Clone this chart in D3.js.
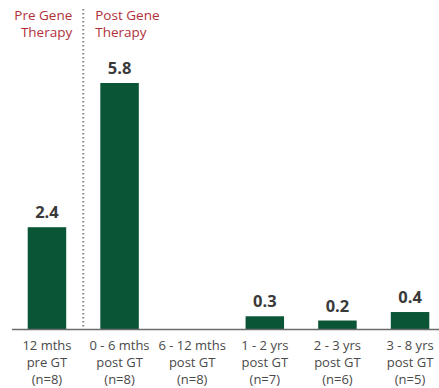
<!DOCTYPE html>
<html>
<head>
<meta charset="utf-8">
<script src="https://cdn.jsdelivr.net/npm/d3@7"></script>
<style>
  body { margin: 0; background: #fff; }
  svg { display: block; font-family: "Open Sans", sans-serif; }
</style>
</head>
<body>
<div id="vis"></div>
<script>
// ----- DATA ----- //
const periods = ["12m pre", "0-6m", "6-12m", "1-2y", "2-3y", "3-8y"];
const values = [2.4, 5.8, null, 0.3, 0.2, 0.4];
const labelLines = [
  ["12 mths", "pre GT", "(n=8)"],
  ["0 - 6 mths", "post GT", "(n=8)"],
  ["6 - 12 mths", "post GT", "(n=8)"],
  ["1 - 2 yrs", "post GT", "(n=7)"],
  ["2 - 3 yrs", "post GT", "(n=6)"],
  ["3 - 8 yrs", "post GT", "(n=5)"]
];
const phaseLeft = ["Pre Gene", "Therapy"];
const phaseRight = ["Post Gene", "Therapy"];

const width = 439, height = 388;
const baseY = 329;

const svg = d3.select("#vis")
  .append("svg")
  .attr("width", width)
  .attr("height", height);

// ----- SCALES ----- //
let x = d3.scaleBand()
  .domain(periods)
  .range([11, 446])
  .paddingInner(0.47)
  .paddingOuter(0.23);

let y = d3.scaleLinear()
  .domain([0, 5.8])
  .range([baseY, 83]);

const barColor = "#0a5535";

// ----- BARS ----- //
let data = periods.map((p, i) => ({ key: p, value: values[i], lines: labelLines[i] }));

svg.selectAll(".bar")
  .data(data.filter((d) => d.value != null))
  .join("rect")
  .attr("class", "bar")
  .attr("x", (d) => x(d.key))
  .attr("width", x.bandwidth())
  .attr("y", (d) => y(d.value))
  .attr("height", (d) => baseY - y(d.value))
  .attr("fill", barColor);

svg.selectAll(".valueLabel")
  .data(data.filter((d) => d.value != null))
  .join("text")
  .attr("class", "valueLabel")
  .attr("x", (d) => x(d.key) + x.bandwidth() / 2)
  .attr("y", (d) => y(d.value) - 9)
  .attr("text-anchor", "middle")
  .attr("font-size", 16.5)
  .attr("font-weight", "bold")
  .attr("fill", "#3a3a3a")
  .text((d) => d3.format(".1f")(d.value));

// ----- AXIS LINE ----- //
svg.append("line")
  .attr("x1", 12)
  .attr("x2", width)
  .attr("y1", baseY + 0.5)
  .attr("y2", baseY + 0.5)
  .attr("stroke", "#6b6b6b")
  .attr("stroke-width", 1.5);

// ----- CATEGORY LABELS ----- //
let catLabels = svg.selectAll(".catLabel")
  .data(data)
  .join("text")
  .attr("class", "catLabel")
  .attr("text-anchor", "middle")
  .attr("font-size", 13)
  .attr("fill", "#4a4a4a");

catLabels.selectAll("tspan")
  .data((d) => d.lines.map((t) => ({ t: t, cx: x(d.key) + x.bandwidth() / 2 })))
  .join("tspan")
  .attr("x", (d) => d.cx)
  .attr("y", (d, i) => 350 + i * 17)
  .text((d) => d.t);

// ----- PHASE DIVIDER ----- //
let divX = (x(periods[0]) + x.bandwidth() + x(periods[1])) / 2;

svg.append("line")
  .attr("x1", divX)
  .attr("x2", divX)
  .attr("y1", 9)
  .attr("y2", baseY - 2)
  .attr("stroke", "#8a8a8a")
  .attr("stroke-width", 2)
  .attr("stroke-dasharray", "1.5,2.5");

svg.append("text")
  .attr("text-anchor", "end")
  .attr("font-size", 13.5)
  .attr("fill", "#b0303a")
  .selectAll("tspan")
  .data(phaseLeft)
  .join("tspan")
  .attr("x", divX - 11)
  .attr("y", (d, i) => 19.5 + i * 17)
  .text((d) => d);

svg.append("text")
  .attr("text-anchor", "start")
  .attr("font-size", 13.5)
  .attr("fill", "#b0303a")
  .selectAll("tspan")
  .data(phaseRight)
  .join("tspan")
  .attr("x", divX + 12)
  .attr("y", (d, i) => 19.5 + i * 17)
  .text((d) => d);
</script>
</body>
</html>
